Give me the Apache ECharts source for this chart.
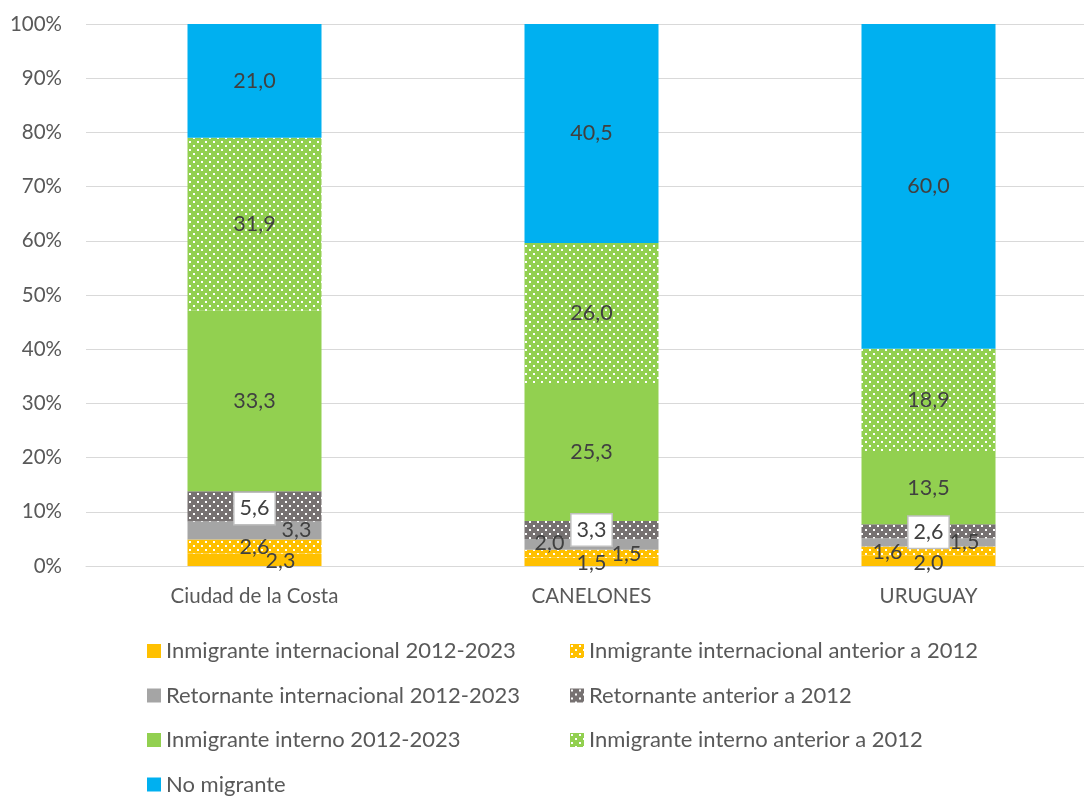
<!DOCTYPE html>
<html>
<head>
<meta charset="utf-8">
<script src="https://cdn.jsdelivr.net/npm/echarts@6/dist/echarts.min.js"></script>
<style>html,body{margin:0;padding:0;background:#fff;overflow:hidden;width:1084px;height:796px;}#c{width:1097px;height:796px;}</style>
</head>
<body>
<div id="c"></div>
<script>
const categories = ['Ciudad de la Costa', 'CANELONES', 'URUGUAY'];
const seriesNames = [
  'Inmigrante internacional 2012-2023',
  'Inmigrante internacional anterior a 2012',
  'Retornante internacional 2012-2023',
  'Retornante anterior a 2012',
  'Inmigrante interno 2012-2023',
  'Inmigrante interno anterior a 2012',
  'No migrante'
];
const inmIntlReciente = [2.3, 1.5, 2.0];
const inmIntlAnterior = [2.6, 1.5, 1.6];
const retReciente = [3.3, 2.0, 1.5];
const retAnterior = [5.6, 3.3, 2.6];
const inmIntReciente = [33.3, 25.3, 13.5];
const inmIntAnterior = [31.9, 26.0, 18.9];
const noMigrante = [21.0, 40.5, 60.0];
const yTicks = [0, 10, 20, 30, 40, 50, 60, 70, 80, 90, 100];

const values = [inmIntlReciente, inmIntlAnterior, retReciente, retAnterior, inmIntReciente, inmIntAnterior, noMigrante];
const colors = ['#FFC000', '#FFC000', '#A5A5A5', '#767171', '#92D050', '#92D050', '#00B0F0'];
const patterned = [false, true, false, true, false, true, false];

// label offsets for small segments [series][category] -> [dx, dy]
const labelOffsets = {
  0: [[26, 1], [0, 1], [0, 2]],
  1: [[0, 1], [35, 0], [-41, 1]],
  2: [[42, 0], [-42, -1], [36, 0]],
  3: [[0, 2], [0, 0], [0, 1]]
};

function makePattern(base) {
  const c = document.createElement('canvas');
  c.width = 8; c.height = 8;
  const ctx = c.getContext('2d');
  ctx.fillStyle = base; ctx.fillRect(0, 0, 8, 8);
  ctx.fillStyle = '#ffffff';
  ctx.fillRect(1, 1, 2, 2);
  ctx.fillRect(5, 5, 2, 2);
  return { image: c, repeat: 'repeat' };
}

function fmt(v) { return v.toFixed(1).replace('.', ','); }

const FONT = 'Lato';

const series = seriesNames.map((name, si) => {
  const col = patterned[si] ? makePattern(colors[si]) : colors[si];
  return {
    name: name,
    type: 'bar',
    stack: 'total',
    barWidth: 134,
    itemStyle: { color: col },
    data: values[si].map((v, ci) => {
      const off = labelOffsets[si] ? labelOffsets[si][ci] : [0, 0];
      return { value: v, label: { offset: off } };
    }),
    label: si === 3 ? {
      show: true, position: 'inside', formatter: p => fmt(p.value),
      fontFamily: FONT, fontSize: 21.5, color: '#404040',
      backgroundColor: '#ffffff', borderColor: '#BFBFBF', borderWidth: 1.5,
      padding: [5, 5, 4, 5]
    } : {
      show: true, position: 'inside', formatter: p => fmt(p.value),
      fontFamily: FONT, fontSize: 21.5, color: '#404040'
    }
  };
});

const legendText = { fontFamily: FONT, fontSize: 22, color: '#595959', lineHeight: 22 };

const chart = echarts.init(document.getElementById('c'), null, { renderer: 'canvas' });
chart.setOption({
  animation: false,
  grid: { left: 86, right: 0, top: 24, height: 542, containLabel: false },
  xAxis: {
    type: 'category', data: categories,
    axisLine: { show: true, lineStyle: { color: '#D9D9D9', width: 1 } },
    axisTick: { show: false },
    axisLabel: { fontFamily: FONT, fontSize: 20.5, color: '#595959', margin: 20 }
  },
  yAxis: {
    type: 'value', min: 0, max: 100, interval: 10,
    axisLine: { show: false }, axisTick: { show: false },
    splitLine: { lineStyle: { color: '#D9D9D9', width: 1 } },
    axisLabel: {
      fontFamily: FONT, fontSize: 20.5, color: '#595959', margin: 24,
      formatter: v => yTicks.includes(v) ? v + '%' : ''
    }
  },
  legend: [
    {
      orient: 'vertical', left: 142, top: 635, height: 200, itemGap: 22.5,
      itemWidth: 14, itemHeight: 14, icon: 'rect',
      textStyle: legendText,
      data: [seriesNames[0], seriesNames[2], seriesNames[4], seriesNames[6]]
    },
    {
      orient: 'vertical', left: 565, top: 635, height: 200, itemGap: 22.5,
      itemWidth: 14, itemHeight: 14, icon: 'rect',
      textStyle: legendText,
      data: [seriesNames[1], seriesNames[3], seriesNames[5]]
    }
  ],
  series: series
});
</script>
</body>
</html>
